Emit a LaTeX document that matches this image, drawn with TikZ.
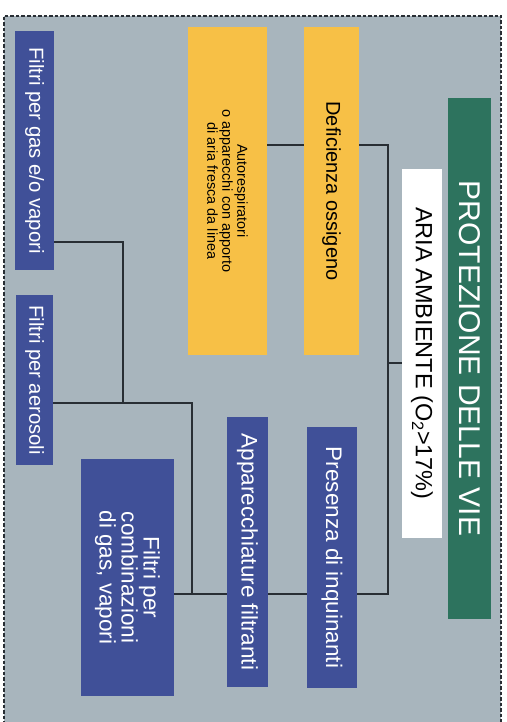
\documentclass[tikz,border=0pt]{standalone}
\usepackage{fontspec}
\setmainfont{Liberation Sans}

\definecolor{sfondo}{RGB}{168,181,189}
\definecolor{verde}{RGB}{45,115,94}
\definecolor{giallo}{RGB}{247,192,70}
\definecolor{blu}{RGB}{64,80,152}
\definecolor{linea}{RGB}{40,46,52}

\begin{document}
\begin{tikzpicture}[x=1pt,y=-1pt,
	riquadro/.style={rotate=-90,inner sep=0pt,align=center},
	gialla/.style={riquadro,fill=giallo,text=black},
	blu/.style={riquadro,fill=blu,text=white},
	tratto/.style={draw=linea,line width=1.6pt}]

\useasboundingbox (0,0) rectangle (506,722);

\fill[sfondo] (4,16) rectangle (501,722);
\draw[linea,line width=1.2pt,dash pattern=on 3.5pt off 2pt]
	(4,730) -- (4,16) -- (501,16) -- (501,730);

\node[riquadro,fill=verde,text=white,minimum width=521,minimum height=43,
	font=\fontsize{30}{32}\selectfont] (titolo) at (469.5,358.5) {PROTEZIONE DELLE VIE};
\node[riquadro,fill=white,text=black,minimum width=369,minimum height=40,
	font=\fontsize{23.5}{25}\selectfont] (aria) at (422,353.5) {ARIA AMBIENTE (O\textsubscript{2}>17\%)};

\node[gialla,minimum width=328,minimum height=55,
	font=\fontsize{20}{22}\selectfont] (deficienza) at (331.5,191) {Deficienza ossigeno};
\node[gialla,minimum width=328,minimum height=79,
	font=\fontsize{14.4}{15}\selectfont] (autoresp) at (227.5,191)
	{\hspace*{0pt}\raisebox{4pt}{\parbox{170pt}{\centering Autorespiratori\\o apparecchi con apporto\\di aria fresca da linea}}};

\node[blu,minimum width=261,minimum height=50,
	font=\fontsize{22.5}{24}\selectfont] (inquinanti) at (332,557.5) {Presenza di inquinanti};
\node[blu,minimum width=270,minimum height=41,
	font=\fontsize{22.5}{24}\selectfont] (filtranti) at (247.5,552) {Apparecchiature filtranti};
\node[blu,minimum width=237,minimum height=93,
	font=\fontsize{22.5}{22}\selectfont] (combinazioni) at (127.5,577.5)
	{Filtri per\\combinazioni\\di gas, vapori};
\node[blu,minimum width=239,minimum height=39,
	font=\fontsize{20.3}{22}\selectfont] (gasvapori) at (34.5,150.5) {Filtri per gas e/o vapori};
\node[blu,minimum width=170,minimum height=37,
	font=\fontsize{20.2}{22}\selectfont] (aerosoli) at (34.5,380) {Filtri per aerosoli};

\coordinate (tronco1) at (388,145);
\coordinate (tronco2) at (388,594);
\coordinate (ramo) at (388,363);
\coordinate (nodo1) at (192,594);
\coordinate (nodo2) at (192,403);
\coordinate (nodo3) at (123,403);
\coordinate (nodo4) at (123,242);

\draw[tratto] (deficienza.north |- tronco1) -- (tronco1) -- (tronco2)
	-- (inquinanti.north |- tronco2);
\draw[tratto] (aria.south |- ramo) -- (ramo);
\draw[tratto] (deficienza.south |- tronco1) -- (autoresp.north |- tronco1);
\draw[tratto] (inquinanti.south |- tronco2) -- (filtranti.north |- tronco2);
\draw[tratto] (filtranti.south |- nodo1) -- (combinazioni.north |- nodo1);
\draw[tratto] (nodo1) -- (nodo2) -- (aerosoli.north |- nodo2);
\draw[tratto] (nodo3) -- (nodo4) -- (gasvapori.north |- nodo4);

\end{tikzpicture}
\end{document}
